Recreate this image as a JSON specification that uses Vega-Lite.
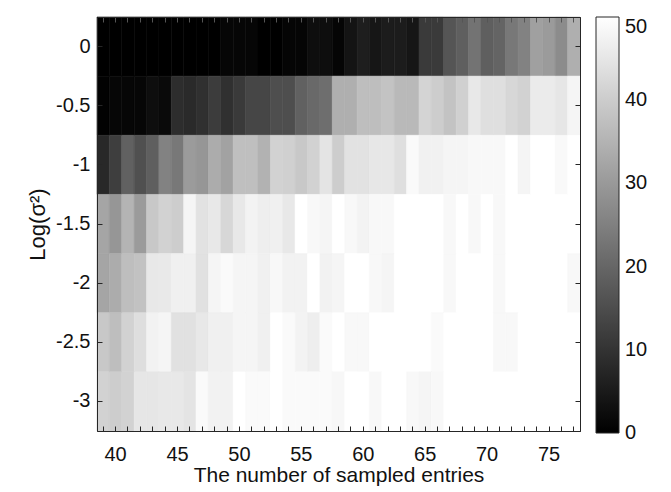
{
  "$schema": "https://vega.github.io/schema/vega-lite/v6.json",
  "autosize": {"type": "none"},
  "padding": {"left": 97, "top": 17, "right": 91, "bottom": 61},
  "width": 483,
  "height": 414,
  "background": "white",
  "config": {
    "font": "Liberation Sans",
    "view": {"stroke": "#262626", "strokeWidth": 1},
    "axis": {
      "domainColor": "#262626",
      "tickColor": "#262626",
      "labelColor": "#111111",
      "titleColor": "#111111",
      "labelFont": "Liberation Sans",
      "titleFont": "Liberation Sans",
      "labelFontSize": 20,
      "titleFontSize": 21,
      "titleFontWeight": "normal",
      "tickSize": -5,
      "grid": false,
      "labelAngle": 0
    }
  },
  "data": {"values": [
    {"n":39,"s":0,"v":0},{"n":40,"s":0,"v":0},{"n":41,"s":0,"v":0},{"n":42,"s":0,"v":0},{"n":43,"s":0,"v":0},{"n":44,"s":0,"v":0},{"n":45,"s":0,"v":0},{"n":46,"s":0,"v":0},{"n":47,"s":0,"v":0},{"n":48,"s":0,"v":0},
    {"n":49,"s":0,"v":1.2},{"n":50,"s":0,"v":1.2},{"n":51,"s":0,"v":1.2},{"n":52,"s":0,"v":0},{"n":53,"s":0,"v":0},{"n":54,"s":0,"v":1},{"n":55,"s":0,"v":1},{"n":56,"s":0,"v":2.7},{"n":57,"s":0,"v":2.7},{"n":58,"s":0,"v":1},
    {"n":59,"s":0,"v":3.9},{"n":60,"s":0,"v":5.9},{"n":61,"s":0,"v":4.3},{"n":62,"s":0,"v":5.5},{"n":63,"s":0,"v":5.5},{"n":64,"s":0,"v":4.3},{"n":65,"s":0,"v":11.4},{"n":66,"s":0,"v":11.4},{"n":67,"s":0,"v":16.7},{"n":68,"s":0,"v":18.6},
    {"n":69,"s":0,"v":22.5},{"n":70,"s":0,"v":18.6},{"n":71,"s":0,"v":19.6},{"n":72,"s":0,"v":23.5},{"n":73,"s":0,"v":25.5},{"n":74,"s":0,"v":31.4},{"n":75,"s":0,"v":30.4},{"n":76,"s":0,"v":27.5},{"n":77,"s":0,"v":34.3},

    {"n":39,"s":-0.5,"v":0.4},{"n":40,"s":-0.5,"v":1.2},{"n":41,"s":-0.5,"v":1.2},{"n":42,"s":-0.5,"v":1.2},{"n":43,"s":-0.5,"v":2.7},{"n":44,"s":-0.5,"v":2.0},{"n":45,"s":-0.5,"v":8.8},{"n":46,"s":-0.5,"v":8.2},{"n":47,"s":-0.5,"v":9.4},{"n":48,"s":-0.5,"v":11.8},
    {"n":49,"s":-0.5,"v":9.4},{"n":50,"s":-0.5,"v":11.4},{"n":51,"s":-0.5,"v":13.7},{"n":52,"s":-0.5,"v":13.7},{"n":53,"s":-0.5,"v":15.3},{"n":54,"s":-0.5,"v":15.3},{"n":55,"s":-0.5,"v":19.0},{"n":56,"s":-0.5,"v":20.6},{"n":57,"s":-0.5,"v":21.6},{"n":58,"s":-0.5,"v":34.3},
    {"n":59,"s":-0.5,"v":34.3},{"n":60,"s":-0.5,"v":37.3},{"n":61,"s":-0.5,"v":37.3},{"n":62,"s":-0.5,"v":38.2},{"n":63,"s":-0.5,"v":36.3},{"n":64,"s":-0.5,"v":36.3},{"n":65,"s":-0.5,"v":41.6},{"n":66,"s":-0.5,"v":40.2},{"n":67,"s":-0.5,"v":38.2},{"n":68,"s":-0.5,"v":40.8},
    {"n":69,"s":-0.5,"v":45.5},{"n":70,"s":-0.5,"v":43.7},{"n":71,"s":-0.5,"v":43.7},{"n":72,"s":-0.5,"v":42.2},{"n":73,"s":-0.5,"v":41.2},{"n":74,"s":-0.5,"v":46.1},{"n":75,"s":-0.5,"v":46.1},{"n":76,"s":-0.5,"v":45.1},{"n":77,"s":-0.5,"v":48.0},

    {"n":39,"s":-1,"v":7.8},{"n":40,"s":-1,"v":12.2},{"n":41,"s":-1,"v":19.0},{"n":42,"s":-1,"v":15.7},{"n":43,"s":-1,"v":18.6},{"n":44,"s":-1,"v":25.5},{"n":45,"s":-1,"v":23.5},{"n":46,"s":-1,"v":30.4},{"n":47,"s":-1,"v":29.4},{"n":48,"s":-1,"v":33.7},
    {"n":49,"s":-1,"v":31.8},{"n":50,"s":-1,"v":37.5},{"n":51,"s":-1,"v":37.5},{"n":52,"s":-1,"v":34.9},{"n":53,"s":-1,"v":41.2},{"n":54,"s":-1,"v":40.8},{"n":55,"s":-1,"v":39.2},{"n":56,"s":-1,"v":41.2},{"n":57,"s":-1,"v":44.7},{"n":58,"s":-1,"v":40.2},
    {"n":59,"s":-1,"v":44.3},{"n":60,"s":-1,"v":44.3},{"n":61,"s":-1,"v":45.3},{"n":62,"s":-1,"v":45.3},{"n":63,"s":-1,"v":43.7},{"n":64,"s":-1,"v":49.0},{"n":65,"s":-1,"v":47.3},{"n":66,"s":-1,"v":47.3},{"n":67,"s":-1,"v":48.0},{"n":68,"s":-1,"v":48.0},
    {"n":69,"s":-1,"v":48.6},{"n":70,"s":-1,"v":48.6},{"n":71,"s":-1,"v":48.6},{"n":72,"s":-1,"v":50},{"n":73,"s":-1,"v":48.0},{"n":74,"s":-1,"v":50},{"n":75,"s":-1,"v":50},{"n":76,"s":-1,"v":48.8},{"n":77,"s":-1,"v":50},

    {"n":39,"s":-1.5,"v":32.4},{"n":40,"s":-1.5,"v":29.4},{"n":41,"s":-1.5,"v":35.3},{"n":42,"s":-1.5,"v":30.4},{"n":43,"s":-1.5,"v":39.2},{"n":44,"s":-1.5,"v":41.2},{"n":45,"s":-1.5,"v":40.2},{"n":46,"s":-1.5,"v":48.0},{"n":47,"s":-1.5,"v":44.3},{"n":48,"s":-1.5,"v":45.5},
    {"n":49,"s":-1.5,"v":42.2},{"n":50,"s":-1.5,"v":45.5},{"n":51,"s":-1.5,"v":47.6},{"n":52,"s":-1.5,"v":46.7},{"n":53,"s":-1.5,"v":47.1},{"n":54,"s":-1.5,"v":45.5},{"n":55,"s":-1.5,"v":50},{"n":56,"s":-1.5,"v":48.6},{"n":57,"s":-1.5,"v":48.0},{"n":58,"s":-1.5,"v":50},
    {"n":59,"s":-1.5,"v":48.6},{"n":60,"s":-1.5,"v":47.6},{"n":61,"s":-1.5,"v":48.6},{"n":62,"s":-1.5,"v":48.6},{"n":63,"s":-1.5,"v":50},{"n":64,"s":-1.5,"v":50},{"n":65,"s":-1.5,"v":50},{"n":66,"s":-1.5,"v":50},{"n":67,"s":-1.5,"v":48.6},{"n":68,"s":-1.5,"v":50},
    {"n":69,"s":-1.5,"v":48.6},{"n":70,"s":-1.5,"v":50},{"n":71,"s":-1.5,"v":48.6},{"n":72,"s":-1.5,"v":50},{"n":73,"s":-1.5,"v":50},{"n":74,"s":-1.5,"v":50},{"n":75,"s":-1.5,"v":50},{"n":76,"s":-1.5,"v":50},{"n":77,"s":-1.5,"v":50},

    {"n":39,"s":-2,"v":32.4},{"n":40,"s":-2,"v":33.7},{"n":41,"s":-2,"v":37.3},{"n":42,"s":-2,"v":38.0},{"n":43,"s":-2,"v":45.5},{"n":44,"s":-2,"v":45.7},{"n":45,"s":-2,"v":47.1},{"n":46,"s":-2,"v":47.1},{"n":47,"s":-2,"v":44.1},{"n":48,"s":-2,"v":48.0},
    {"n":49,"s":-2,"v":49.0},{"n":50,"s":-2,"v":48.0},{"n":51,"s":-2,"v":48.0},{"n":52,"s":-2,"v":47.1},{"n":53,"s":-2,"v":48.6},{"n":54,"s":-2,"v":47.5},{"n":55,"s":-2,"v":47.5},{"n":56,"s":-2,"v":50},{"n":57,"s":-2,"v":47.5},{"n":58,"s":-2,"v":48.0},
    {"n":59,"s":-2,"v":50},{"n":60,"s":-2,"v":50},{"n":61,"s":-2,"v":48.6},{"n":62,"s":-2,"v":48.0},{"n":63,"s":-2,"v":50},{"n":64,"s":-2,"v":50},{"n":65,"s":-2,"v":50},{"n":66,"s":-2,"v":50},{"n":67,"s":-2,"v":48.6},{"n":68,"s":-2,"v":50},
    {"n":69,"s":-2,"v":50},{"n":70,"s":-2,"v":50},{"n":71,"s":-2,"v":48.6},{"n":72,"s":-2,"v":50},{"n":73,"s":-2,"v":50},{"n":74,"s":-2,"v":50},{"n":75,"s":-2,"v":50},{"n":76,"s":-2,"v":50},{"n":77,"s":-2,"v":48.6},

    {"n":39,"s":-2.5,"v":39.2},{"n":40,"s":-2.5,"v":37.3},{"n":41,"s":-2.5,"v":41.2},{"n":42,"s":-2.5,"v":43.5},{"n":43,"s":-2.5,"v":47.5},{"n":44,"s":-2.5,"v":48.0},{"n":45,"s":-2.5,"v":44.1},{"n":46,"s":-2.5,"v":44.1},{"n":47,"s":-2.5,"v":45.5},{"n":48,"s":-2.5,"v":47.1},
    {"n":49,"s":-2.5,"v":47.1},{"n":50,"s":-2.5,"v":48.0},{"n":51,"s":-2.5,"v":48.0},{"n":52,"s":-2.5,"v":47.1},{"n":53,"s":-2.5,"v":50},{"n":54,"s":-2.5,"v":49.0},{"n":55,"s":-2.5,"v":47.6},{"n":56,"s":-2.5,"v":46.7},{"n":57,"s":-2.5,"v":49.0},{"n":58,"s":-2.5,"v":50},
    {"n":59,"s":-2.5,"v":48.6},{"n":60,"s":-2.5,"v":48.6},{"n":61,"s":-2.5,"v":50},{"n":62,"s":-2.5,"v":50},{"n":63,"s":-2.5,"v":50},{"n":64,"s":-2.5,"v":50},{"n":65,"s":-2.5,"v":50},{"n":66,"s":-2.5,"v":49.0},{"n":67,"s":-2.5,"v":50},{"n":68,"s":-2.5,"v":50},
    {"n":69,"s":-2.5,"v":50},{"n":70,"s":-2.5,"v":50},{"n":71,"s":-2.5,"v":48.6},{"n":72,"s":-2.5,"v":48.6},{"n":73,"s":-2.5,"v":50},{"n":74,"s":-2.5,"v":50},{"n":75,"s":-2.5,"v":50},{"n":76,"s":-2.5,"v":50},{"n":77,"s":-2.5,"v":50},

    {"n":39,"s":-3,"v":41.2},{"n":40,"s":-3,"v":40.2},{"n":41,"s":-3,"v":41.2},{"n":42,"s":-3,"v":45.1},{"n":43,"s":-3,"v":45.1},{"n":44,"s":-3,"v":45.5},{"n":45,"s":-3,"v":45.5},{"n":46,"s":-3,"v":44.7},{"n":47,"s":-3,"v":49.0},{"n":48,"s":-3,"v":47.5},
    {"n":49,"s":-3,"v":47.5},{"n":50,"s":-3,"v":50},{"n":51,"s":-3,"v":49.0},{"n":52,"s":-3,"v":49.0},{"n":53,"s":-3,"v":50},{"n":54,"s":-3,"v":49.0},{"n":55,"s":-3,"v":49.0},{"n":56,"s":-3,"v":49.0},{"n":57,"s":-3,"v":49.0},{"n":58,"s":-3,"v":48.5},
    {"n":59,"s":-3,"v":50},{"n":60,"s":-3,"v":50},{"n":61,"s":-3,"v":48.6},{"n":62,"s":-3,"v":50},{"n":63,"s":-3,"v":50},{"n":64,"s":-3,"v":48.6},{"n":65,"s":-3,"v":48.0},{"n":66,"s":-3,"v":48.6},{"n":67,"s":-3,"v":50},{"n":68,"s":-3,"v":50},
    {"n":69,"s":-3,"v":50},{"n":70,"s":-3,"v":50},{"n":71,"s":-3,"v":50},{"n":72,"s":-3,"v":50},{"n":73,"s":-3,"v":50},{"n":74,"s":-3,"v":50},{"n":75,"s":-3,"v":50},{"n":76,"s":-3,"v":50},{"n":77,"s":-3,"v":50}
  ]},
  "layer": [
    {
      "mark": {"type": "rect", "strokeWidth": 0.6},
      "encoding": {
        "x": {"field": "n", "type": "ordinal", "scale": {"paddingInner": 0, "paddingOuter": 0},
              "axis": {"orient": "bottom", "title": "The number of sampled entries", "labelExpr": "datum.value % 5 == 0 ? datum.label : ''", "labelPadding": 18, "titlePadding": 0}},
        "y": {"field": "s", "type": "ordinal", "sort": "descending", "scale": {"paddingInner": 0, "paddingOuter": 0},
              "axis": {"orient": "left", "title": "Log(σ²)", "labelPadding": 12, "titlePadding": 6, "titleFontSize": 22}},
        "color": {"field": "v", "type": "quantitative",
                  "scale": {"domain": [0, 50], "range": ["#000000", "#ffffff"], "interpolate": "rgb"},
                  "legend": {"type": "gradient", "orient": "none", "legendX": 499, "legendY": 0, "direction": "vertical", "title": null,
                             "gradientLength": 416, "gradientThickness": 23, "gradientStrokeColor": "#262626", "gradientStrokeWidth": 1,
                             "values": [0, 10, 20, 30, 40, 50], "labelFontSize": 20, "labelFont": "Liberation Sans", "labelColor": "#111111", "labelOffset": 6,
                             "encode": {"labels": {"update": {"baseline": {"signal": "datum.value >= 50 ? 'top' : 'middle'"}}}}}},
        "stroke": {"field": "v", "type": "quantitative",
                   "scale": {"domain": [0, 50.001], "range": ["#000000", "#ffffff"], "interpolate": "rgb"},
                   "legend": null}
      }
    },
    {
      "mark": {"type": "rect", "opacity": 0},
      "encoding": {
        "x": {"field": "n", "type": "ordinal", "axis": {"orient": "top", "labels": false, "title": null, "tickColor": "#555555"}},
        "y": {"field": "s", "type": "ordinal", "sort": "descending", "axis": {"orient": "right", "labels": false, "title": null}}
      }
    }
  ],
  "resolve": {"axis": {"x": "independent", "y": "independent"}}
}
